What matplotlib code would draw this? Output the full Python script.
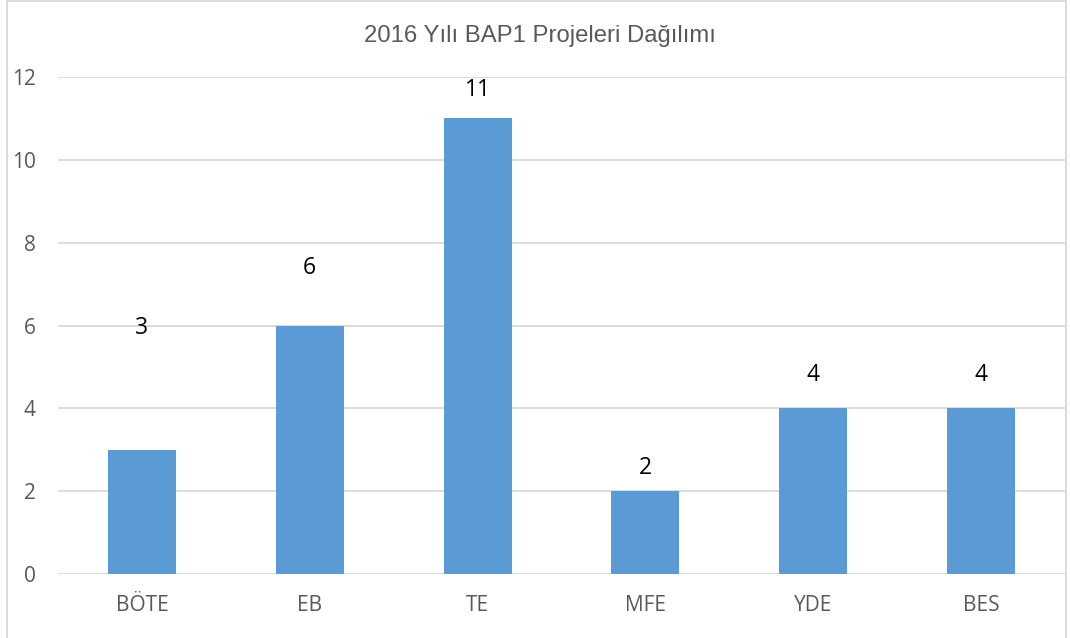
import matplotlib.pyplot as plt
from matplotlib.patches import Rectangle

# chart data
categories = ["BÖTE", "EB", "TE", "MFE", "YDE", "BES"]
values = [3, 6, 11, 2, 4, 4]
# where the data labels sit (some are not right above the bar)
label_y = [5.94, 7.39, 11.69, 2.56, 4.8, 4.8]

fig = plt.figure(figsize=(10.7, 6.38), dpi=100)
ax = fig.add_axes([0.0542, 0.1003, 0.9411, 0.779])

x = range(len(categories))
ax.bar(x, values, width=0.405, color="#5B9BD5", zorder=3)

for i, (v, ly) in enumerate(zip(values, label_y)):
    ax.text(i, ly, str(v), ha="center", va="center", fontsize=16.5,
            family="Open Sans", color="black")

ax.set_xlim(-0.5, len(categories) - 0.5)
ax.set_ylim(0, 12)
ax.set_yticks(range(0, 13, 2))
ax.set_xticks(list(x))
ax.set_xticklabels(categories)
ax.grid(axis="y", color="#D9D9D9", linewidth=1.3, zorder=0)
for s in ax.spines.values():
    s.set_visible(False)
ax.tick_params(length=0, colors="#595959", labelsize=15)
ax.tick_params(axis="x", pad=15)
ax.tick_params(axis="y", pad=16)
for lab in ax.get_xticklabels() + ax.get_yticklabels():
    lab.set_family("Open Sans")

fig.text(0.5047, 0.943, "2016 Yılı BAP1 Projeleri Dağılımı", ha="center", va="center",
         fontsize=17.2, family="Liberation Sans", color="#595959")

# outer chart border (bottom is cut off in the original)
fig.patches.append(Rectangle((7 / 1070, -0.05), 1059 / 1070, 1.05 - 1.5 / 638,
                             transform=fig.transFigure, fill=False,
                             edgecolor="#D9D9D9", linewidth=1.3))

fig.savefig("out.png", dpi=100)
